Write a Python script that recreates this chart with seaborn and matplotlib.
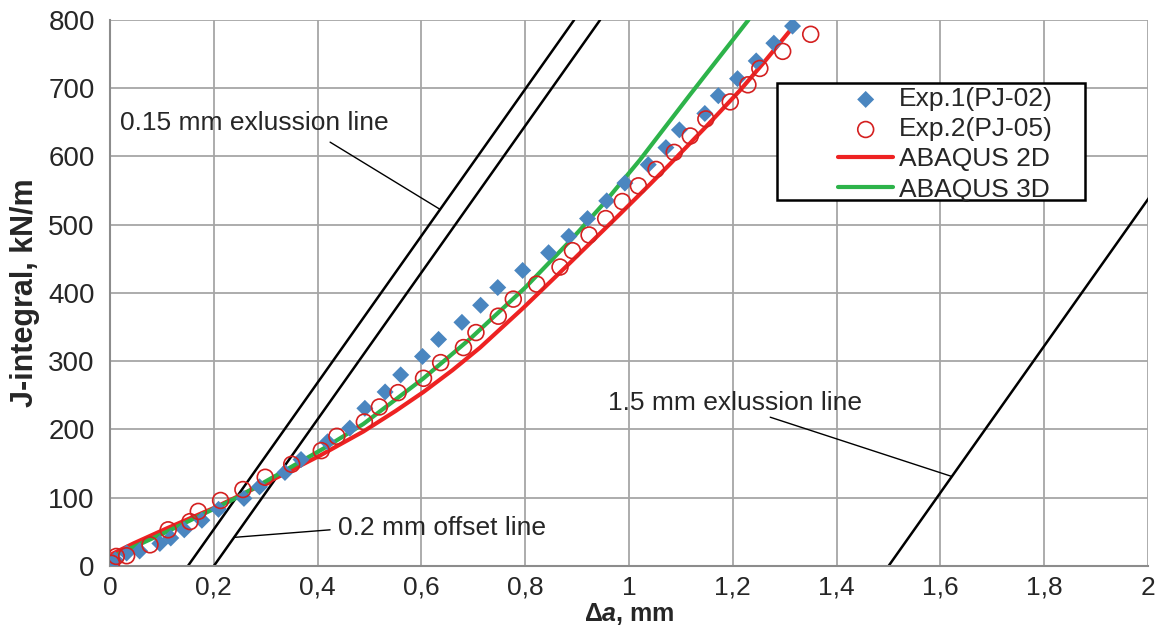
import numpy as np
import pandas as pd
import matplotlib
matplotlib.use('Agg')
import matplotlib.pyplot as plt
import seaborn as sns
from matplotlib import font_manager
from matplotlib.patches import Rectangle

# экспериментальные точки (Δa, мм; J, кН/м)
exp1_da = [0.003, 0.01, 0.032, 0.057, 0.096, 0.117, 0.143, 0.177, 0.209, 0.258, 0.288, 0.337, 0.368,
           0.419, 0.462, 0.491, 0.530, 0.560, 0.602, 0.633, 0.678, 0.714, 0.747, 0.795, 0.845, 0.884,
           0.920, 0.957, 0.992, 1.037, 1.071, 1.097, 1.146, 1.172, 1.209, 1.245, 1.279, 1.315]
exp1_j = [0, 9, 19, 22, 33, 41, 53, 67, 83, 99, 116, 137, 156, 182, 202, 231, 255, 280, 307, 332, 357,
          382, 408, 433, 459, 483, 509, 535, 561, 588, 613, 639, 663, 689, 714, 740, 766, 791]

exp2_da = [0.003, 0.012, 0.032, 0.077, 0.112, 0.154, 0.170, 0.213, 0.256, 0.299, 0.350, 0.407, 0.437,
           0.490, 0.519, 0.555, 0.604, 0.637, 0.681, 0.705, 0.748, 0.777, 0.822, 0.867, 0.891, 0.923,
           0.955, 0.987, 1.018, 1.052, 1.087, 1.118, 1.148, 1.195, 1.229, 1.252, 1.296, 1.350]
exp2_j = [4, 14, 15, 31, 53, 65, 80, 96, 112, 130, 149, 169, 190, 211, 233, 254, 275, 298, 320, 342,
          366, 391, 413, 438, 462, 485, 509, 534, 557, 581, 606, 630, 655, 680, 705, 729, 754, 779]

# расчёт ABAQUS
abq2d_da = [0.0, 0.005, 0.045, 0.109, 0.2, 0.328, 0.405, 0.488, 0.55, 0.604, 0.66, 0.713, 0.796,
            0.886, 0.983, 1.040, 1.079, 1.150, 1.214, 1.260, 1.313]
abq2d_j = [8, 18, 33, 55, 85, 132, 162, 197, 227, 255, 287, 320, 378, 444, 516, 559, 589, 645, 697,
           738, 787]

abq3d_da = [0.0, 0.006, 0.109, 0.244, 0.328, 0.411, 0.488, 0.604, 0.694, 0.800, 0.886, 0.950, 1.021,
            1.118, 1.230]
abq3d_j = [5, 14, 50, 100, 136, 172, 208, 275, 333, 408, 476, 530, 595, 691, 800]

# линии притупления / исключения
line_x0 = [0.15, 0.2, 1.5]
line_slope = 1075

sns.set_style('white')
plt.rcParams['font.family'] = ['Liberation Sans', 'DejaVu Sans']
plt.rcParams['mathtext.fontset'] = 'custom'
plt.rcParams['mathtext.rm'] = 'Liberation Sans:bold'
plt.rcParams['mathtext.it'] = 'Liberation Sans:italic:bold'
plt.rcParams['mathtext.bf'] = 'Liberation Sans:bold'

names = [f.name for f in font_manager.fontManager.ttflist]
narrow = 'Liberation Sans Narrow' if 'Liberation Sans Narrow' in names else 'Liberation Sans'

fig = plt.figure(figsize=(11.62, 6.30), dpi=100)
ax = fig.add_axes([0.0947, 0.1016, 0.8933, 0.8667])

for x0 in line_x0:
    xs = np.array([x0, x0 + 800 / line_slope])
    ax.plot(xs, line_slope * (xs - x0), color='black', lw=1.8, zorder=2)

sns.lineplot(x=abq2d_da, y=abq2d_j, ax=ax, color='#ee2222', lw=3, sort=False,
             label='ABAQUS 2D', zorder=3)
sns.lineplot(x=abq3d_da, y=abq3d_j, ax=ax, color='#2db34a', lw=3, sort=False,
             label='ABAQUS 3D', zorder=3)
sns.scatterplot(x=exp1_da, y=exp1_j, ax=ax, marker='D', s=75, color='#4a86c0',
                edgecolor='none', label='Exp.1(PJ-02)', zorder=4)
sns.scatterplot(x=exp2_da, y=exp2_j, ax=ax, marker='o', s=130, facecolor='none',
                edgecolor='#d42020', linewidth=1.2, label='Exp.2(PJ-05)', zorder=5)

# подписи с выносками
def leader(x_line, x0, text_xy, start_xy, text):
    ax.plot([start_xy[0], x_line], [start_xy[1], line_slope * (x_line - x0)],
            color='black', lw=1, zorder=2)
    ax.text(text_xy[0], text_xy[1], text, fontsize=19, va='center', ha='left', zorder=6)

leader(0.636, 0.15, (0.019, 649), (0.424, 621), '0.15 mm exlussion line')
leader(0.239, 0.2, (0.439, 56), (0.424, 53), '0.2 mm offset line')
leader(1.622, 1.5, (0.96, 239), (1.272, 218), '1.5 mm exlussion line')

ax.set_xlim(0, 2)
ax.set_ylim(0, 800)
ax.set_xticks(np.arange(0, 2.01, 0.2))
ax.set_xticklabels(['0' if v == 0 else ('%g' % v).replace('.', ',') for v in np.arange(0, 2.01, 0.2)],
                   fontfamily=narrow, fontsize=19)
ax.set_yticks(np.arange(0, 801, 100))
ax.tick_params(axis='y', labelsize=20, length=5, color='#8c8c8c', pad=6)
ax.tick_params(axis='x', length=6, color='#8c8c8c', pad=1)
ax.grid(True, color='#a6a6a6', lw=1.3)
for s in ['top', 'right']:
    ax.spines[s].set_visible(False)
for s in ['left', 'bottom']:
    ax.spines[s].set_color('#8c8c8c')
    ax.spines[s].set_linewidth(1.5)

ax.set_ylabel('J-integral, kN/m', fontsize=22, fontweight='bold', labelpad=6)
ax.set_xlabel(r'$\Delta\mathit{a}$, mm', fontsize=18, fontweight='bold', labelpad=1)

# рамка легенды
ax.add_patch(Rectangle((0.643, 0.670), 0.296, 0.215, transform=ax.transAxes,
                       facecolor='white', edgecolor='black', lw=1.8, zorder=6))

handles, labels = ax.get_legend_handles_labels()
order = [labels.index(l) for l in ['Exp.1(PJ-02)', 'Exp.2(PJ-05)', 'ABAQUS 2D', 'ABAQUS 3D']]
leg = ax.legend([handles[i] for i in order], [labels[i] for i in order],
                loc='upper left', bbox_to_anchor=(0.700, 0.879), fontsize=19,
                frameon=False, labelspacing=0.23, handlelength=2.1, handletextpad=0.2,
                borderpad=0.05, borderaxespad=0)
leg.set_zorder(7)

fig.savefig('out.png', dpi=100)
